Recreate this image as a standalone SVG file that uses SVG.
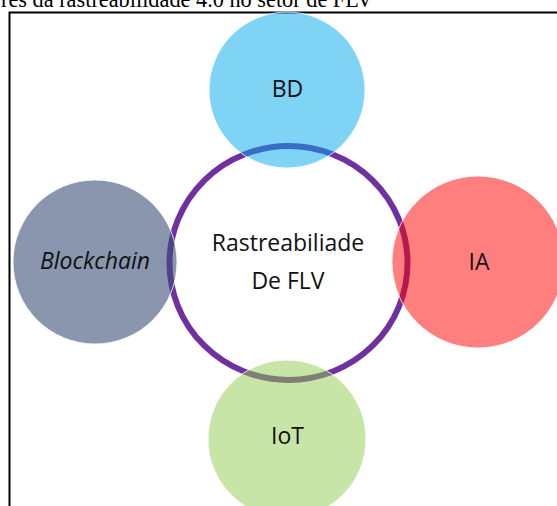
<svg xmlns="http://www.w3.org/2000/svg" width="557" height="506" viewBox="0 0 557 506">
<style>
.lbl{font-family:"Open Sans","Noto Sans","Liberation Sans",sans-serif;font-size:23px;fill:#111;text-anchor:middle}
.sat{stroke:#ffffff;stroke-width:1;stroke-opacity:0.8}
</style>
<rect width="557" height="506" fill="#ffffff"/>
<text x="1" y="7" font-family="'Liberation Serif','Times New Roman',serif" font-size="22.3" fill="#000">res da rastreabilidade 4.0 no setor de FLV</text>
<g id="frame">
<path d="M9.5 506 V12.5 H557" fill="none" stroke="#000" stroke-width="2"/>
</g>
<g id="center">
<ellipse cx="288.5" cy="263" rx="119" ry="117" fill="#ffffff" stroke="#7030A0" stroke-width="6"/>
<text class="lbl" x="288" y="251">Rastreabiliade</text>
<text class="lbl" x="288" y="289">De FLV</text>
</g>
<g id="connectors"></g>
<g id="bd">
<circle class="sat" cx="287" cy="90" r="78" fill="#00A9EE" fill-opacity="0.5"/>
<text class="lbl" x="287.5" y="97">BD</text>
</g>
<g id="blockchain">
<circle class="sat" cx="95" cy="262" r="82" fill="#3B5078" fill-opacity="0.6"/>
<text class="lbl" x="95" y="269" font-style="italic">Blockchain</text>
</g>
<g id="ia">
<circle class="sat" cx="478" cy="262" r="86" fill="#FF0000" fill-opacity="0.5"/>
<text class="lbl" x="479" y="270">IA</text>
</g>
<g id="iot">
<circle class="sat" cx="287" cy="439" r="79" fill="#8DCB4D" fill-opacity="0.5"/>
<text class="lbl" x="287.5" y="444">IoT</text>
</g>
</svg>
